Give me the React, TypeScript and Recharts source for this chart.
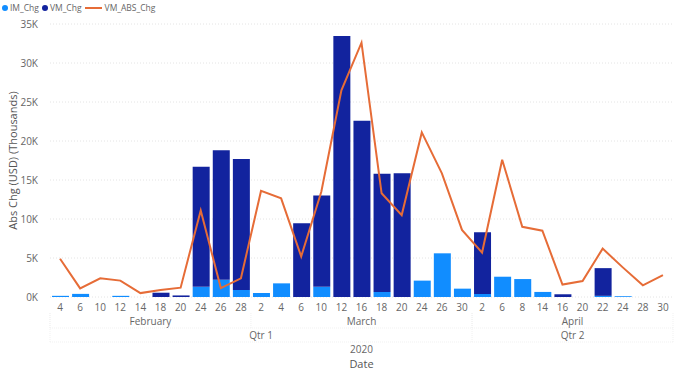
import React from 'react';
import { ComposedChart, Bar, Line, XAxis, YAxis, CartesianGrid } from 'recharts';

const months = ['February', 'March', 'April'];
const monthDays = [
  [4, 6, 10, 12, 14, 18, 20, 24, 26, 28],
  [2, 4, 6, 10, 12, 16, 18, 20, 24, 26, 30],
  [2, 6, 8, 14, 16, 20, 22, 24, 28, 30],
];
const quarters = ['Qtr 1', 'Qtr 2'];
const quarterMonths = [[0, 1], [2]];
const yearLabel = '2020';

const imChg = [
  150, 400, 0, 150, 0, 0, 0, 1300, 2200, 900,
  500, 1750, 0, 1300, 0, 0, 650, 0, 2100, 5600, 1070,
  400, 2600, 2300, 650, 0, 0, 150, 100, 0, 0,
];
const vmChg = [
  0, 0, 0, 0, 0, 550, 200, 15400, 16600, 16800,
  0, 0, 9450, 11700, 33450, 22600, 15150, 15850, 0, 0, 0,
  7900, 0, 0, 0, 350, 0, 3550, 0, 0, 0,
];
const vmAbsChg = [
  4900, 1100, 2400, 2100, 500, 900, 1200, 11100, 1150, 2400,
  13600, 12650, 5200, 13500, 26500, 32600, 13300, 10500, 21100, 15850, 8600,
  5700, 17600, 9000, 8500, 1600, 2050, 6200, 3800, 1500, 2800,
];
const yTicks = [0, 5000, 10000, 15000, 20000, 25000, 30000, 35000];

const C_IM = '#118DFF';
const C_VM = '#12239E';
const C_ABS = '#E66C37';
const TXT = '#666666';
const FONT = '"Open Sans", "Segoe UI", sans-serif';

const W = 681;
const H = 373;
const ML = 50;
const MR = 8;
const MT = 24;
const PB = 297;
const PLOT_W = W - ML - MR;
const SEP = '#f1f1f1';

type Row = { key: string; day: number; m: number; di: number; IM_Chg: number; VM_Chg: number; VM_ABS_Chg: number };
const data: Row[] = [];
{
  let i = 0;
  monthDays.forEach((days, m) => {
    days.forEach((day, di) => {
      data.push({ key: `${months[m]}-${day}`, day, m, di, IM_Chg: imChg[i], VM_Chg: vmChg[i], VM_ABS_Chg: vmAbsChg[i] });
      i++;
    });
  });
}

const XTick = (props: any) => {
  const { x } = props;
  const index: number = props.index ?? props.payload?.index ?? 0;
  const d = data[index];
  if (!d) return null;
  const band = PLOT_W / data.length;
  const els: React.ReactNode[] = [];
  const ts = { fontFamily: FONT, fill: TXT, textAnchor: 'middle' as const };
  els.push(
    <text key="d" x={x} y={PB + 14} fontSize={10} {...ts}>{d.day}</text>
  );
  if (d.di === 0) {
    const n = monthDays[d.m].length;
    els.push(
      <text key="m" x={x + ((n - 1) * band) / 2} y={PB + 28} fontSize={10} {...ts}>{months[d.m]}</text>
    );
    els.push(
      <line key="ml" x1={x - band / 2} x2={x - band / 2} y1={PB + 16} y2={PB + 31} stroke={SEP} strokeDasharray="1 1" />
    );
    const qi = quarterMonths.findIndex((q) => q[0] === d.m);
    if (qi >= 0) {
      const cnt = quarterMonths[qi].reduce((s, mm) => s + monthDays[mm].length, 0);
      els.push(
        <text key="q" x={x + ((cnt - 1) * band) / 2} y={PB + 42} fontSize={10} {...ts}>{quarters[qi]}</text>
      );
      els.push(
        <line key="ql" x1={x - band / 2} x2={x - band / 2} y1={PB + 16} y2={PB + 45} stroke={SEP} strokeDasharray="1 1" />
      );
    }
  }
  if (index === 0) {
    const cnt = data.length;
    els.push(
      <text key="y" x={x + ((cnt - 1) * band) / 2} y={PB + 56} fontSize={10} {...ts}>{yearLabel}</text>
    );
    els.push(
      <text key="t" x={x + ((cnt - 1) * band) / 2} y={PB + 71} fontSize={11} {...ts} fill="#555">Date</text>
    );
    els.push(
      <line key="h1" x1={x - band / 2} x2={x - band / 2 + PLOT_W} y1={PB + 31} y2={PB + 31} stroke={SEP} strokeDasharray="1 1" />
    );
    els.push(
      <line key="h2" x1={x - band / 2} x2={x - band / 2 + PLOT_W} y1={PB + 45} y2={PB + 45} stroke={SEP} strokeDasharray="1 1" />
    );
  }
  if (index === data.length - 1) {
    els.push(
      <line key="rl" x1={x + band / 2} x2={x + band / 2} y1={PB + 16} y2={PB + 45} stroke={SEP} strokeDasharray="1 1" />
    );
  }
  return <g>{els}</g>;
};

const YLabel = (props: any) => {
  const vb = props.viewBox || { x: 0, y: MT, width: ML, height: PB - MT };
  const cx = 12;
  const cy = vb.y + vb.height / 2;
  return (
    <text x={cx} y={cy} transform={`rotate(-90 ${cx} ${cy})`} textAnchor="middle" dominantBaseline="central" fontSize={11} fontFamily={FONT} fill="#555">
      Abs Chg (USD) (Thousands)
    </text>
  );
};

const LegendBox = () => {
  const item = (color: string, label: string, line = false) => (
    <div style={{ display: 'flex', alignItems: 'center', marginRight: 3 }}>
      {line ? (
        <div style={{ width: 17, height: 2, background: C_ABS, marginRight: 3 }} />
      ) : (
        <div style={{ width: 6, height: 6, borderRadius: 3, background: color, marginRight: 2 }} />
      )}
      <span>{label}</span>
    </div>
  );
  return (
    <div style={{ position: 'absolute', left: 2, top: 2, display: 'flex', alignItems: 'center', fontFamily: FONT, fontSize: 8.5, color: TXT, lineHeight: '11px' }}>
      {item(C_IM, 'IM_Chg')}
      {item(C_VM, 'VM_Chg')}
      {item(C_ABS, 'VM_ABS_Chg', true)}
    </div>
  );
};

export default function App() {
  return (
    <div style={{ position: 'absolute', left: 0, top: 0, width: W, height: H, background: '#fff' }}>
      <LegendBox />
      <ComposedChart width={W} height={H} data={data} margin={{ top: MT, right: MR, bottom: 0, left: 0 }} barSize={17}>
        <CartesianGrid vertical={false} stroke="#e4e4e4" strokeDasharray="1 2" />
        <XAxis
          dataKey="key"
          interval={0}
          axisLine={false}
          tickLine={false}
          height={H - PB}
          tick={<XTick />}
        />
        <YAxis
          width={ML}
          domain={[0, 35000]}
          ticks={yTicks}
          axisLine={false}
          tickLine={false}
          tickMargin={6}
          tickFormatter={(v: number) => `${v / 1000}K`}
          tick={{ fontSize: 10, fill: TXT, fontFamily: FONT }}
          label={<YLabel />}
        />
        <Bar dataKey="IM_Chg" stackId="a" fill={C_IM} isAnimationActive={false} />
        <Bar dataKey="VM_Chg" stackId="a" fill={C_VM} isAnimationActive={false} />
        <Line dataKey="VM_ABS_Chg" type="linear" stroke={C_ABS} strokeWidth={2} dot={false} activeDot={false} isAnimationActive={false} />
      </ComposedChart>
    </div>
  );
}
